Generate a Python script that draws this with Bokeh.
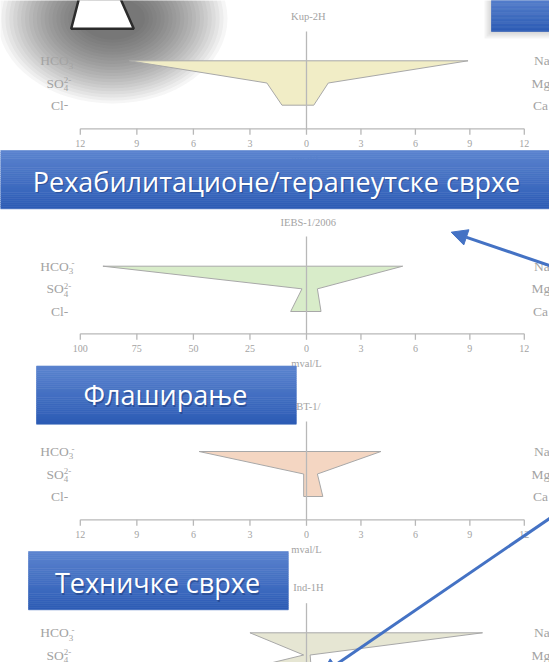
import numpy as np
from bokeh.plotting import figure
from bokeh.models import Range1d, Arrow, NormalHead
from bokeh.core.properties import value
from bokeh.embed import file_html
from bokeh.resources import INLINE

# ---------------- data ----------------
anion_labels = ["HCO", "SO", "Cl"]
cation_labels = ["Na", "Mg", "Ca"]
titles = ["Kup-2H", "IEBS-1/2006", "BT-1/", "Ind-1H"]
anions_kup = [9.4, 2.1, 1.3]
cations_kup = [8.9, 1.2, 0.4]
anions_iebs = [90.0, 2.0, 7.0]
cations_iebs = [5.3, 0.6, 0.8]
anions_bt = [5.7, 0.15, 0.15]
cations_bt = [4.1, 0.6, 0.9]
anions_ind = [3.0, 0.15, 5.0]
cations_ind = [9.7, 0.2, 0.3]
ticks_std = [0, 3, 6, 9, 12]
ticks_iebs_left = [0, 25, 50, 75, 100]
unit_label = "mval/L"
banner_texts = ["Рехабилитационе/терапеутске сврхе", "Флаширање", "Техничке сврхе"]

# ---------------- layout ----------------
W, H = 549, 662
SERIF = value("Liberation Serif")
SANS = value("Open Sans")
GRAY_TXT = "#A3A3A3"
GRAY_LINE = "#B8B8B8"

p = figure(width=W, height=H, x_range=Range1d(0, W), y_range=Range1d(H, 0),
           output_backend="svg", toolbar_location=None, min_border=0,
           x_axis_location=None, y_axis_location=None)
p.grid.visible = False
p.outline_line_color = None
p.background_fill_color = "white"


def lin_range(v_a, px_a, v_b, px_b, px_lo, px_hi):
    k = (v_b - v_a) / (px_b - px_a)
    return Range1d(start=v_a + (px_lo - px_a) * k, end=v_a + (px_hi - px_a) * k)


diagrams = [
    dict(anions=anions_kup, cations=cations_kup, lt=ticks_std, rt=ticks_std, title=titles[0],
         fill="#F1EDC6", row0=60.3, row2=104.7, vtop=31, axis_y=128.3, title_y=15.7),
    dict(anions=anions_iebs, cations=cations_iebs, lt=ticks_iebs_left, rt=ticks_std, title=titles[1],
         fill="#D8ECC9", row0=265.7, row2=311.0, vtop=236, axis_y=333.3, title_y=221.7),
    dict(anions=anions_bt, cations=cations_bt, lt=ticks_std, rt=ticks_std, title=titles[2],
         fill="#F4D6C2", row0=451.0, row2=496.0, vtop=421, axis_y=519.3, title_y=405.7),
    dict(anions=anions_ind, cations=cations_ind, lt=ticks_std, rt=ticks_std, title=titles[3],
         fill="#E6E6D3", row0=632.3, row2=676.7, vtop=602.7, axis_y=728, title_y=587.3),
]
CX, LPX, RPX = 306.0, 79.8, 523.8

xr, yr = {}, {}
for i, d in enumerate(diagrams):
    xr[f"L{i}"] = lin_range(0, CX, d["lt"][-1], LPX, 0, W)
    xr[f"R{i}"] = lin_range(0, CX, d["rt"][-1], RPX, 0, W)
    yr[f"Y{i}"] = lin_range(0, d["row0"], 2, d["row2"], H, 0)
p.extra_x_ranges = xr
p.extra_y_ranges = yr

# ---------------- decorative top-left shadow + icon ----------------
n_sh = 22
for k in range(n_sh):
    t = k / (n_sh - 1)
    p.ellipse(x=[112], y=[18], width=[230 - 165 * t], height=[170 - 128 * t],
              width_units="screen", height_units="screen",
              fill_color="#333333", fill_alpha=0.044, line_color=None)
p.patch(x=[79, 119, 133.3, 70.7], y=[-4, -4, 28.3, 28.3], fill_color="white",
        line_color="#2B2B2B", line_width=2.5)

# top-right banner shadow
for k in range(4):
    p.quad(left=[491 - 2 * k - 1], right=[560], top=[-5], bottom=[31 + 2 * k + 1],
           fill_color="#404040", fill_alpha=0.06, line_color=None)

# ---------------- stiff diagrams ----------------
for i, d in enumerate(diagrams):
    L, R, Y = f"L{i}", f"R{i}", f"Y{i}"
    a, c = d["anions"], d["cations"]
    p.patch(x=[0, a[0], a[1], a[2], 0], y=[0, 0, 1, 2, 2], x_range_name=L, y_range_name=Y,
            fill_color=d["fill"], line_color="#A8A8A8", line_width=1)
    p.patch(x=[0, c[0], c[1], c[2], 0], y=[0, 0, 1, 2, 2], x_range_name=R, y_range_name=Y,
            fill_color=d["fill"], line_color="#A8A8A8", line_width=1)
    ay = d["axis_y"]
    # centre line
    p.segment(x0=[0], x1=[0], y0=[d["vtop"]], y1=[min(ay + 6, H + 10)], x_range_name=R,
              line_color=GRAY_LINE, line_width=1.3)
    # horizontal axis with ticks (only where it lies inside the picture)
    if ay < H:
        for nm, tk in ((L, d["lt"]), (R, d["rt"])):
            p.segment(x0=[0], x1=[tk[-1]], y0=[ay], y1=[ay], x_range_name=nm,
                      line_color=GRAY_LINE, line_width=1.3)
            p.segment(x0=tk[1:], x1=tk[1:], y0=[ay] * (len(tk) - 1), y1=[ay + 6] * (len(tk) - 1),
                      x_range_name=nm, line_color=GRAY_LINE, line_width=1.3)
            p.text(x=tk[1:], y=[ay + 15] * (len(tk) - 1), text=[str(t) for t in tk[1:]],
                   x_range_name=nm, text_font=SERIF, text_font_size="10px", text_color=GRAY_TXT,
                   text_align="center", text_baseline="middle")
        p.text(x=[0], y=[ay + 15], text=["0"], x_range_name=R, text_font=SERIF,
               text_font_size="10px", text_color=GRAY_TXT, text_align="center", text_baseline="middle")
        p.text(x=[0], y=[ay + 29.5], text=[unit_label], x_range_name=R, text_font=SERIF,
               text_font_size="10.5px", text_color=GRAY_TXT, text_align="center", text_baseline="middle")
    # title
    p.text(x=[0.1], y=[d["title_y"]], text=[d["title"]], x_range_name=R, text_font=SERIF,
           text_font_size="10.5px", text_color=GRAY_TXT, text_align="center", text_baseline="middle")
    # row labels: only the rows that fall inside the picture
    step = (d["row2"] - d["row0"]) / 2
    rows = [r for r in range(3) if d["row0"] + r * step < H + 4]
    anx = [68.3, 63.3, 63.3]
    p.text(x=[anx[r] for r in rows], y=rows, text=[anion_labels[r] for r in rows],
           y_range_name=Y, text_font=SERIF, text_font_size="13.5px", text_color=GRAY_TXT,
           text_align="right", text_baseline="middle")
    p.text(x=[68.3, 63.3], y=[0.22, 1.22], text=["3", "4"], y_range_name=Y, text_font=SERIF,
           text_font_size="9px", text_color=GRAY_TXT, text_align="left", text_baseline="middle")
    p.text(x=[71.0, 63.3], y=[-0.12, 0.86], text=["-", "2-"], y_range_name=Y, text_font=SERIF,
           text_font_size="9px", text_color=GRAY_TXT, text_align="left", text_baseline="middle")
    if 2 in rows:
        p.text(x=[63.3], y=[2], text=["-"], y_range_name=Y, text_font=SERIF,
               text_font_size="13.5px", text_color=GRAY_TXT, text_align="left", text_baseline="middle")
    cax = [533.5, 531.0, 532.5]
    p.text(x=[cax[r] for r in rows], y=rows, text=[cation_labels[r] for r in rows],
           y_range_name=Y, text_font=SERIF, text_font_size="13.5px", text_color=GRAY_TXT,
           text_align="left", text_baseline="middle")


# ---------------- banners ----------------
def banner(x0, x1, y0, y1, txt, tx, ty, size, n=28):
    ys = np.linspace(y0, y1, n + 1)
    top = np.array([0x5C, 0x84, 0xD0])
    bot = np.array([0x2D, 0x5C, 0xB5])
    cols = []
    for k in range(n):
        t = (k + 0.5) / n
        rgb = (top * (1 - t) + bot * t).astype(int)
        cols.append("#%02x%02x%02x" % tuple(rgb))
    p.quad(left=[x0] * n, right=[x1] * n, top=list(ys[:-1]), bottom=list(ys[1:]),
           fill_color=cols, line_color=cols, line_width=0.6)
    if txt:
        p.text(x=[tx + 1.2], y=[ty + 1.6], text=[txt], text_font=SANS, text_font_size=size,
               text_color="#15306A", text_alpha=0.45, text_align="center", text_baseline="middle")
        p.text(x=[tx], y=[ty], text=[txt], text_font=SANS, text_font_size=size,
               text_color="white", text_align="center", text_baseline="middle")


banner(491, 560, -5, 31, None, 0, 0, "1px")
banner(-5, 560, 150, 208.3, banner_texts[0], 276, 180.5, "27px")
banner(36, 295.8, 365.5, 423.7, banner_texts[1], 165, 394, "27px")
banner(28, 287.8, 551, 609.3, banner_texts[2], 157, 582, "27px")

# ---------------- arrows ----------------
BLUE = "#4472C4"
p.add_layout(Arrow(x_start=565, y_start=270.4, x_end=450.7, y_end=231.7, line_color=BLUE, line_width=3,
                   end=NormalHead(size=16, fill_color=BLUE, line_color=BLUE)))
p.add_layout(Arrow(x_start=580, y_start=496.8, x_end=321, y_end=674, line_color=BLUE, line_width=3,
                   end=NormalHead(size=16, fill_color=BLUE, line_color=BLUE)))

open("out.html", "w").write(file_html(p, INLINE))
